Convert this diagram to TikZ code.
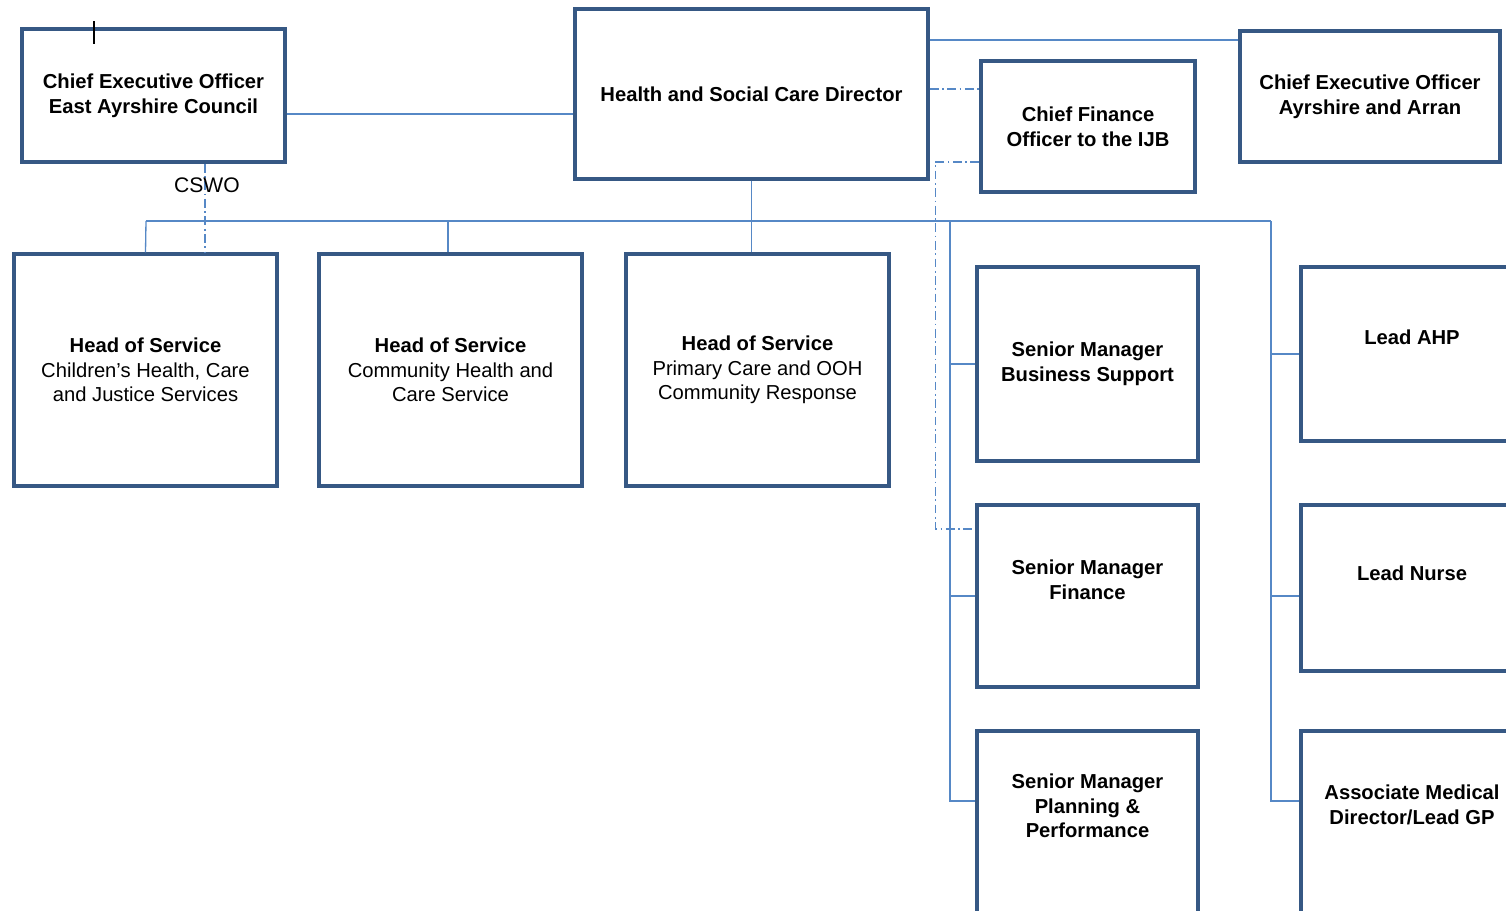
\documentclass[tikz,border=0pt]{standalone}
\usepackage{fontspec}
\setmainfont{Liberation Sans}
\usepackage{xcolor}
\usetikzlibrary{positioning}

\definecolor{boxline}{RGB}{54,88,132}
\definecolor{connline}{RGB}{86,136,198}

\begin{document}
\begin{tikzpicture}[
    x=0.02cm, y=-0.02cm,
    font=\fontsize{11.5}{14}\selectfont,
    post/.style={rectangle, draw=boxline, line width=2pt, fill=white,
                 align=center, inner sep=2pt,
                 font=\fontsize{11.5}{14}\selectfont\bfseries},
    head/.style={post, font=\fontsize{11.5}{14}\selectfont},
    txt/.style={align=center, font=\fontsize{11.5}{14}\selectfont\bfseries},
    link/.style={draw=connline, line width=0.75pt},
    dotlink/.style={link, dash pattern=on 5pt off 2pt on 1pt off 2pt}
  ]
    \clip (0,0) rectangle (1506,910);

    %% -- Top row: chief officers and director
    \node[post, minimum width=5.26cm, minimum height=2.66cm] (ceoea) at (153.5,95.5)
          {Chief Executive Officer\\East Ayrshire Council};
    \node[post, minimum width=7.06cm, minimum height=3.4cm] (hscd) at (751.5,94)
          {Health and Social Care Director};
    \node[post, minimum width=4.28cm, minimum height=2.62cm] (cfo) at (1088,126.5)
          {Chief Finance\\Officer to the IJB};
    \node[post, minimum width=5.2cm, minimum height=2.62cm] (ceoaa) at (1370,96.5)
          {Chief Executive Officer\\Ayrshire and Arran};

    %% -- Heads of service
    \node[head, minimum width=5.26cm, minimum height=4.64cm] (hos1) at (145.5,370)
          {\textbf{Head of Service}\\Children’s Health, Care\\and Justice Services};
    \node[head, minimum width=5.26cm, minimum height=4.64cm] (hos2) at (450.5,370)
          {\textbf{Head of Service}\\Community Health and\\Care Service};
    \node[head, minimum width=5.26cm, minimum height=4.64cm] (hos3) at (757.5,370)
          {\textbf{Head of Service}\\Primary Care and OOH\\Community Response};

    %% -- Senior managers
    \node[post, minimum width=4.42cm, minimum height=3.88cm] (sm1) at (1087.5,364)
          {Senior Manager\\Business Support};
    \node[post, minimum width=4.42cm, minimum height=3.64cm] (sm2) at (1087.5,596) {};
    \node[txt] (sm2t) at (1087.5,580) {Senior Manager\\Finance};
    \node[post, minimum width=4.42cm, minimum height=4.0cm] (sm3) at (1087.5,831) {};
    \node[txt] (sm3t) at (1087.5,806) {Senior Manager\\Planning \&\\Performance};

    %% -- Professional leads
    \node[post, minimum width=4.42cm, minimum height=3.48cm] (lahp) at (1411.5,354) {};
    \node[txt] (lahpt) at (1412,337) {Lead AHP};
    \node[post, minimum width=4.42cm, minimum height=3.32cm] (lnurse) at (1411.5,588) {};
    \node[txt] (lnurset) at (1412,573) {Lead Nurse};
    \node[post, minimum width=4.42cm, minimum height=4.0cm] (amd) at (1411.5,831) {};
    \node[txt] (amdt) at (1412,805) {Associate Medical\\Director/Lead GP};

    %% bus coordinates
    \coordinate (bus)     at (146,221);
    \coordinate (lbus)    at (950,221);
    \coordinate (rbus)    at (1271,221);
    \coordinate (lowtick) at (950,801);

    %% Lines: top row
    \draw[link] ([yshift=-0.37cm]ceoea.east) -- ([yshift=-0.37cm]ceoea.east -| hscd.west);
    \draw[link] ([yshift=1.08cm]hscd.east) -- ([yshift=1.08cm]hscd.east -| ceoaa.west);

    %% Lines: director -> heads of service
    \draw[link] (hscd.south) -- (hscd.south |- bus);
    \draw[link] (bus) -- (rbus);
    \draw[link] (bus) -- (hos1.north);
    \draw[link] ([xshift=-0.05cm]hos2.north |- bus) -- ([xshift=-0.05cm]hos2.north);
    \draw[link] (hscd.south |- bus) -- (hscd.south |- hos3.north);

    %% Lines: senior managers
    \draw[link] (lbus) -- (lowtick) -- (sm3.west |- lowtick);
    \draw[link] (lbus |- sm1.west) -- (sm1.west);
    \draw[link] (lbus |- sm2.west) -- (sm2.west);

    %% Lines: professional leads
    \draw[link] (rbus) -- (rbus |- lowtick) -- (amd.west |- lowtick);
    \draw[link] (rbus |- lahp.west) -- (lahp.west);
    \draw[link] (rbus |- sm2.west) -- (lnurse.west |- sm2.west);

    %% Dotted reporting lines
    \draw[dotlink] ([yshift=0.1cm]hscd.east) -- ([yshift=0.1cm]hscd.east -| cfo.west);
    \draw[dotlink] ([yshift=-0.71cm]cfo.west) -- ++(-44,0) |- ([yshift=1.34cm]sm2.west);
    \draw[dotlink] ([xshift=1.03cm]ceoea.south) -- ([xshift=1.03cm]ceoea.south |- hos1.north);
    \node[font=\fontsize{12}{14}\selectfont] (cswo) at (207,185) {CSWO};

    %% stray mark
    \draw[black, line width=0.6pt] (94,21) -- (94,44);
\end{tikzpicture}
\end{document}
